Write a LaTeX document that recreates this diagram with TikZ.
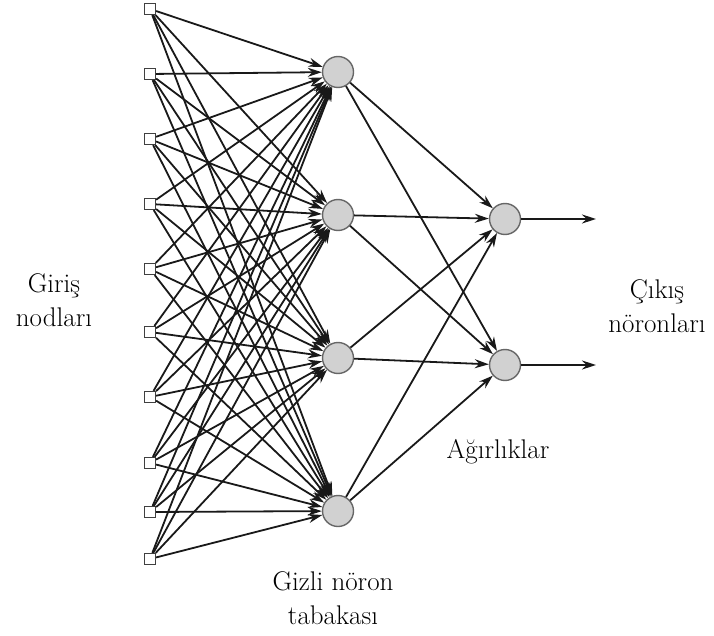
\documentclass[tikz,border=0pt]{standalone}
\usepackage{fontspec}
\usetikzlibrary{arrows.meta}
\begin{document}
\begin{tikzpicture}[x=1pt,y=-1pt,
 inp/.style={draw=black!75, fill=white, line width=1.2pt, minimum size=11pt, inner sep=0pt},
 neuron/.style={circle, draw=black!60, fill=black!18, line width=1.4pt, minimum size=31pt, inner sep=0pt},
 conn/.style={draw=black!90, line width=1.8pt, -{Stealth[length=14pt,width=9pt]}},
 lbl/.style={font=\rmfamily\fontsize{27}{34}\selectfont, align=center, inner sep=0pt}]
\useasboundingbox (0,0) rectangle (714,636);
\foreach \i/\y in {0/9,1/74,2/139,3/204,4/269,5/332,6/397,7/463,8/512,9/559}
  \node[inp] (in\i) at (150,\y) {};
\node[neuron] (h1) at (338,72) {};
\node[neuron] (h2) at (338,215) {};
\node[neuron] (h3) at (338,358) {};
\node[neuron] (h4) at (338,511) {};
\node[neuron] (o1) at (505,219) {};
\node[neuron] (o2) at (505,365) {};
\coordinate (e1) at (596,219);
\coordinate (e2) at (596,365);
\foreach \i in {0,...,9}
  \foreach \j in {1,...,4}
    \draw[conn] (in\i) -- (h\j);
\foreach \j in {1,...,4}
  \foreach \k in {1,2}
    \draw[conn] (h\j) -- (o\k);
\draw[conn] (o1) -- (e1);
\draw[conn] (o2) -- (e2);
\node[lbl] (lin) at (54,300) {Giriş\\nodları};
\node[lbl] (lout) at (657,306) {Çıkış\\nöronları};
\node[lbl] (lw) at (498,452) {Ağırlıklar};
\node[lbl] (lh) at (333,598) {Gizli nöron\\tabakası};
\end{tikzpicture}
\end{document}
